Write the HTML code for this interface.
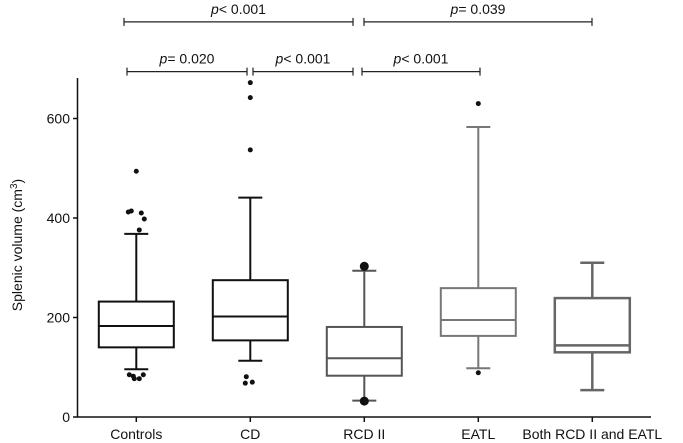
<!DOCTYPE html>
<html><head><meta charset="utf-8"><style>
body{margin:0;background:#fff}
svg{display:block;font-family:"Liberation Sans",Arial,sans-serif}
</style></head><body>
<svg id="chart" width="683" height="443" viewBox="0 0 683 443"></svg>
<script>
const categories=["Controls","CD","RCD II","EATL","Both RCD II and EATL"];
const q1s=[140,154,83,163,130];
const medians=[183,202,118,195,144];
const q3s=[232,275,181,259,239];
const whiskLow=[96,113,33,98,54];
const whiskHigh=[368,441,294,583,310];
const outliers=[[494,414,410,412,398,376,85,82,85,77,77],[672,642,537,81,68,70],[303,32],[630,89],[]];
const yTicks=[0,200,400,600];
const colors=["#111","#111","#555","#777","#666"];
const brackets=[[0,2,0,"< 0.001"],[2,4,0,"= 0.039"],[0,1,1,"= 0.020"],[1,2,1,"< 0.001"],[2,3,1,"< 0.001"]];
const NS="http://www.w3.org/2000/svg";
const svg=document.getElementById('chart');
const y=v=>417-v*0.4975;
const x=i=>136.3+i*114;
function mk(t,a,p){const e=document.createElementNS(NS,t);for(const k in a)e.setAttribute(k,a[k]);(p||svg).appendChild(e);return e;}
let ax=mk('path',{d:'M77.5,78V417H651',stroke:'#111','stroke-width':1.5,fill:'none'});


yTicks.forEach(t=>{
 let l=mk('line',{x1:73,x2:77.5,y1:y(t),y2:y(t),stroke:'#111','stroke-width':1.5});
 
 
 let tx=mk('text',{x:70,y:y(t)+5,'text-anchor':'end','font-size':14,fill:'#111'});tx.textContent=t;
 
 
});
let yl=mk('text',{x:0,y:0,transform:'translate(22,245) rotate(-90)','text-anchor':'middle','font-size':14,fill:'#111'});
yl.innerHTML='Splenic volume (cm<tspan dy="-5" font-size="10">3</tspan><tspan dy="5">)</tspan>';


const offs=[[0,-5,5,-8,8,3,-7,-3,7,-2,3],[0,0,0,-4,-5,2],[0,0],[0,0],[]];
categories.forEach((c,i)=>{
 const cx=x(i),col=colors[i],sw=i==4?2.5:2,hw=37.5;
 let tk=mk('line',{x1:cx,x2:cx,y1:417,y2:422,stroke:'#111','stroke-width':1.5});
 
 
 let lb=mk('text',{x:cx,y:439,'text-anchor':'middle','font-size':14,fill:'#111'});lb.textContent=c;
 
 
 const g=mk('g',{stroke:col,'stroke-width':sw,fill:'none'});
 
 
 mk('line',{x1:cx,x2:cx,y1:y(whiskHigh[i]),y2:y(q3s[i])},g);
 mk('line',{x1:cx,x2:cx,y1:y(q1s[i]),y2:y(whiskLow[i])},g);
 mk('line',{x1:cx-12,x2:cx+12,y1:y(whiskHigh[i]),y2:y(whiskHigh[i])},g);
 mk('line',{x1:cx-12,x2:cx+12,y1:y(whiskLow[i]),y2:y(whiskLow[i])},g);
 mk('rect',{x:cx-hw,y:y(q3s[i]),width:2*hw,height:y(q1s[i])-y(q3s[i])},g);
 mk('line',{x1:cx-hw,x2:cx+hw,y1:y(medians[i]),y2:y(medians[i])},g);
 outliers[i].forEach((v,j)=>{
  const off=(offs[i]&&offs[i][j])||0;
  let d=mk('circle',{cx:cx+off,cy:y(v),r:i==2?4.5:2.5,fill:'#111'});
  
  
 });
});
brackets.forEach(b=>{
 const by=b[2]?71.6:21.9;
 const xa=b[2]&&b[0]==0?127:(b[0]==0?124:(b[0]==1?253:362+(b[2]?0:2)));
 const xb=b[1]==1?247:(b[1]==2?353:(b[1]==3?480:592));
 const g=mk('g',{stroke:'#222','stroke-width':1.2});
 
 
 mk('line',{x1:xa,x2:xb,y1:by,y2:by},g);
 mk('line',{x1:xa,x2:xa,y1:by-4,y2:by+4},g);
 mk('line',{x1:xb,x2:xb,y1:by-4,y2:by+4},g);
 let t=mk('text',{x:(xa+xb)/2,y:by-8,'text-anchor':'middle','font-size':14,fill:'#111'});
 t.innerHTML='<tspan font-style="italic">p</tspan>'+b[3];
 
 
});
</script>
</body></html>
